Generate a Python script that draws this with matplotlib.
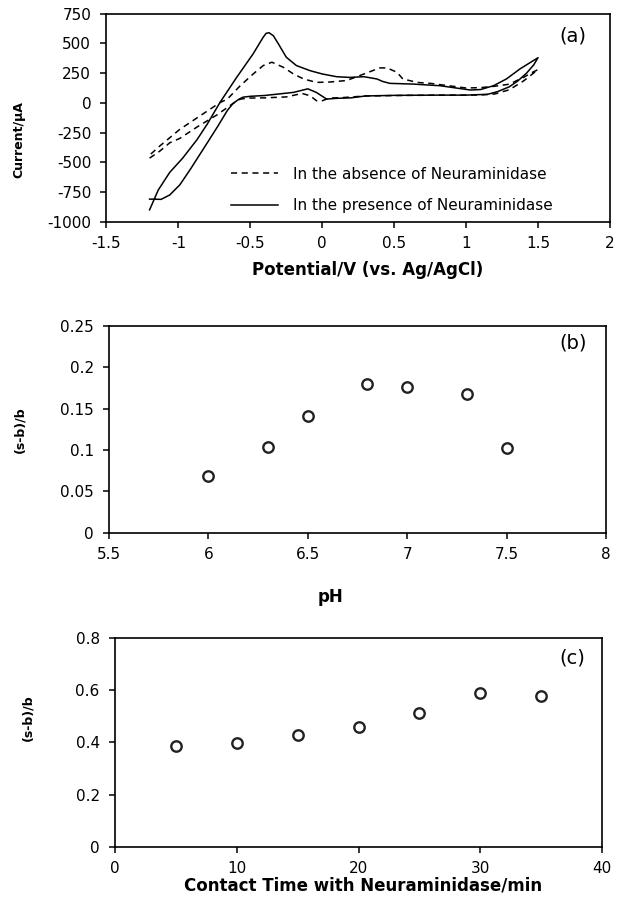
import matplotlib
matplotlib.use("Agg")
import matplotlib.pyplot as plt

plt.rcParams["font.family"] = ["DejaVu Sans"]

# (a) cyclic voltammograms, forward sweep then reverse sweep
POT_PRESENCE = [-1.2, -1.12, -1.06, -0.99, -0.92, -0.83, -0.73, -0.66, -0.62, -0.58, -0.55, -0.5,
                -0.4, -0.3, -0.2, -0.1, -0.04, 0.03, 0.1, 0.2, 0.3, 0.5, 0.8, 1.0, 1.15, 1.22,
                1.3, 1.36, 1.42, 1.47, 1.5,
                1.44, 1.375, 1.28, 1.19, 1.1, 1.03, 0.93, 0.82, 0.63, 0.47, 0.42, 0.38, 0.29,
                0.19, 0.1, 0.0, -0.085, -0.18, -0.25, -0.305, -0.34, -0.37, -0.39, -0.41, -0.48,
                -0.595, -0.71, -0.8, -0.87, -0.97, -1.06, -1.14, -1.2]
CUR_PRESENCE = [-810, -812, -775, -690, -565, -395, -205, -65, -5, 30, 48, 55,
                62, 75, 88, 118, 87, 32, 38, 42, 58, 63, 65, 65, 72, 95,
                135, 185, 250, 320, 380,
                335, 286, 201, 144, 112, 108, 125, 144, 158, 164, 180, 201, 220,
                214, 220, 243, 271, 314, 384, 497, 565, 590, 585, 553, 413,
                214, 5, -180, -309, -465, -585, -734, -900]

POT_ABSENCE = [-1.2, -1.13, -1.06, -0.99, -0.87, -0.73, -0.62, -0.57, -0.52, -0.4, -0.25, -0.14,
               -0.085, -0.04, 0.0, 0.05, 0.15, 0.3, 0.6, 0.9, 1.1, 1.2, 1.3, 1.4, 1.5,
               1.45, 1.4, 1.3, 1.2, 1.1, 1.0, 0.84, 0.75, 0.66, 0.56, 0.52, 0.45, 0.4, 0.29,
               0.17, 0.05, -0.04, -0.13, -0.2, -0.27, -0.35, -0.41, -0.48, -0.57, -0.66,
               -0.71, -0.85, -0.99, -1.13, -1.2]
CUR_ABSENCE = [-465, -407, -336, -299, -203, -100, -5, 31, 40, 42, 50, 79,
               60, 18, 18, 40, 45, 58, 63, 65, 66, 75, 110, 185, 280,
               250, 215, 157, 140, 128, 125, 150, 164, 172, 201, 257, 294, 294, 243,
               188, 175, 172, 201, 243, 299, 342, 314, 243, 144, 31,
               3, -110, -223, -364, -440]

# (b) pH dependence
PH = [6.0, 6.3, 6.5, 6.8, 7.0, 7.3, 7.5]
PH_RESP = [0.069, 0.104, 0.141, 0.179, 0.176, 0.167, 0.102]

# (c) contact time
TIME_MIN = [5, 10, 15, 20, 25, 30, 35]
TIME_RESP = [0.386, 0.397, 0.427, 0.461, 0.512, 0.590, 0.578]

TICK_FS = 11
LABEL_FS = 12
YLABEL_FS = 9


def style_axes(ax):
    for s in ax.spines.values():
        s.set_linewidth(1.2)
        s.set_color("black")
    ax.tick_params(direction="out", length=4, width=1.1, labelsize=TICK_FS, pad=6)
    ax.tick_params(axis="y", pad=7)


fig = plt.figure(figsize=(6.22, 9.02), dpi=100)
ax_a = fig.add_axes([0.1711, 0.7542, 0.8096, 0.2306])
ax_b = fig.add_axes([0.1752, 0.4091, 0.7990, 0.2300])
ax_c = fig.add_axes([0.1849, 0.0610, 0.7830, 0.2317])

# panel (a)
ax_a.plot(POT_ABSENCE, CUR_ABSENCE, color="black", lw=1.1, ls=(0, (4, 3)),
          label="In the absence of Neuraminidase")
ax_a.plot(POT_PRESENCE, CUR_PRESENCE, color="black", lw=1.1,
          label="In the presence of Neuraminidase")
ax_a.set_xlim(-1.5, 2)
ax_a.set_ylim(-1000, 750)
ax_a.set_xticks([-1.5, -1, -0.5, 0, 0.5, 1, 1.5, 2])
ax_a.set_xticklabels(["-1.5", "-1", "-0.5", "0", "0.5", "1", "1.5", "2"])
ax_a.set_yticks(range(-1000, 751, 250))
ax_a.set_yticklabels([str(v) for v in range(-1000, 751, 250)])
style_axes(ax_a)
ax_a.set_xlabel("Potential/V (vs. Ag/AgCl)", fontsize=LABEL_FS, fontweight="bold", va="center")
ax_a.xaxis.set_label_coords(0.519, -0.232)
ax_a.set_ylabel("Current/μA", fontsize=YLABEL_FS, fontweight="bold", va="center")
ax_a.yaxis.set_label_coords(-0.173, 0.393)
ax_a.text(0.926, 0.893, "(a)", transform=ax_a.transAxes, fontsize=14, ha="center", va="center")
ax_a.legend(loc="lower left", bbox_to_anchor=(0.247, 0.04), frameon=False, fontsize=11,
            handlelength=3.1, handletextpad=1.0, labelspacing=1.1, borderpad=0, borderaxespad=0)

# panel (b)
ax_b.plot(PH, PH_RESP, ls="none", marker="o", ms=7.5, mfc="white", mec="#222222", mew=1.7)
ax_b.set_xlim(5.5, 8)
ax_b.set_ylim(0, 0.25)
ax_b.set_xticks([5.5, 6, 6.5, 7, 7.5, 8])
ax_b.set_xticklabels(["5.5", "6", "6.5", "7", "7.5", "8"])
ax_b.set_yticks([0, 0.05, 0.1, 0.15, 0.2, 0.25])
ax_b.set_yticklabels(["0", "0.05", "0.1", "0.15", "0.2", "0.25"])
style_axes(ax_b)
ax_b.set_xlabel("pH", fontsize=LABEL_FS, fontweight="bold", va="center")
ax_b.xaxis.set_label_coords(0.445, -0.308)
ax_b.set_ylabel("(s-b)/b", fontsize=YLABEL_FS, fontweight="bold", va="center")
ax_b.yaxis.set_label_coords(-0.179, 0.496)
ax_b.text(0.934, 0.916, "(b)", transform=ax_b.transAxes, fontsize=14, ha="center", va="center")

# panel (c)
ax_c.plot(TIME_MIN, TIME_RESP, ls="none", marker="o", ms=7.5, mfc="white", mec="#222222", mew=1.7)
ax_c.set_xlim(0, 40)
ax_c.set_ylim(0, 0.8)
ax_c.set_xticks([0, 10, 20, 30, 40])
ax_c.set_yticks([0, 0.2, 0.4, 0.6, 0.8])
ax_c.set_yticklabels(["0", "0.2", "0.4", "0.6", "0.8"])
style_axes(ax_c)
ax_c.set_xlabel("Contact Time with Neuraminidase/min", fontsize=LABEL_FS, fontweight="bold",
                va="center")
ax_c.xaxis.set_label_coords(0.509, -0.182)
ax_c.set_ylabel("(s-b)/b", fontsize=YLABEL_FS, fontweight="bold", va="center")
ax_c.yaxis.set_label_coords(-0.179, 0.617)
ax_c.text(0.94, 0.904, "(c)", transform=ax_c.transAxes, fontsize=14, ha="center", va="center")

fig.savefig("out.png", dpi=100)
